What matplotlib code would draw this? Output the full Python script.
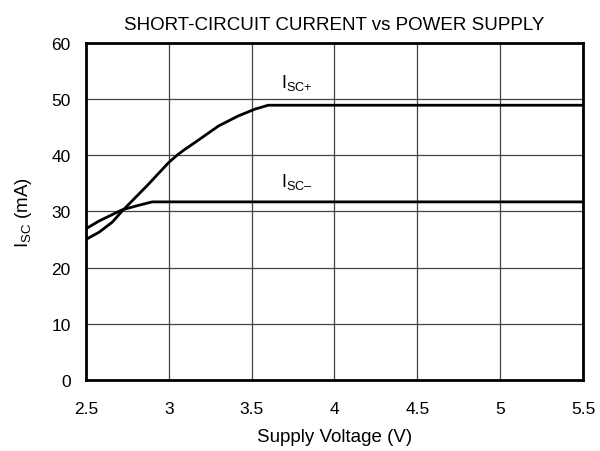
import matplotlib
matplotlib.use("Agg")
import matplotlib.pyplot as plt

plt.rcParams['font.family'] = ['Liberation Sans', 'DejaVu Sans']
plt.rcParams['mathtext.fontset'] = 'custom'
plt.rcParams['mathtext.rm'] = 'Liberation Sans'

# I_SC+ curve
vp = [2.5, 2.58, 2.66, 2.72, 2.87, 3.0, 3.05, 3.1, 3.16, 3.3, 3.42, 3.52, 3.6, 5.5]
ip = [25.0, 26.3, 28.1, 30.1, 34.6, 38.7, 40.0, 41.1, 42.3, 45.2, 47.0, 48.2, 48.9, 48.9]
# I_SC- curve
vn = [2.5, 2.58, 2.72, 2.82, 2.9, 5.5]
i_n = [26.9, 28.3, 30.3, 31.1, 31.7, 31.7]

xticks = [2.5, 3, 3.5, 4, 4.5, 5, 5.5]
xticklabels = ['2.5', '3', '3.5', '4', '4.5', '5', '5.5']
yticks = [0, 10, 20, 30, 40, 50, 60]

fig = plt.figure(figsize=(6, 4.52), dpi=100)
ax = fig.add_axes([0.143, 0.157, 0.829, 0.746])

ax.plot(vp, ip, color='black', linewidth=2.0)
ax.plot(vn, i_n, color='black', linewidth=2.0)

ax.text(3.77, 51.2, 'I$_{\\mathregular{SC{+}}}$', fontsize=13, ha='center', va='bottom')
ax.text(3.77, 33.7, 'I$_{\\mathregular{SC\u2013}}$', fontsize=13, ha='center', va='bottom')

ax.set_xlim(2.5, 5.5)
ax.set_ylim(0, 60)
ax.set_xticks(xticks)
ax.set_xticklabels(xticklabels)
ax.set_yticks(yticks)
ax.tick_params(length=0, labelsize=12.5)
ax.tick_params(axis='x', pad=15)
ax.tick_params(axis='y', pad=11)
ax.grid(True, color='#444444', linewidth=0.9)
for s in ax.spines.values():
    s.set_linewidth(2.0)

ax.set_title('SHORT-CIRCUIT CURRENT vs POWER SUPPLY', fontsize=13.5, pad=10)
ax.set_xlabel('Supply Voltage (V)', fontsize=13.5, labelpad=9)
ax.set_ylabel('I$_{\\mathregular{SC}}$ (mA)', fontsize=13.5, labelpad=12)

plt.savefig('out.png', dpi=100)
